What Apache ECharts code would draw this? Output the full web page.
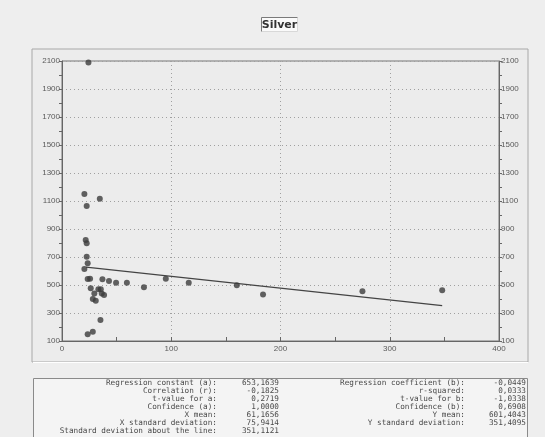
<!DOCTYPE html>
<html>
<head>
<meta charset="utf-8">
<script src="https://cdn.jsdelivr.net/npm/echarts@6/dist/echarts.min.js"></script>
<style>
html,body{margin:0;padding:0;background:#eeeeee;}
#c{width:545px;height:437px;}
</style>
</head>
<body>
<div id="c"></div>
<script>
var titleText = "Silver";
var xVals = [20.5, 22.6, 34.6, 21.7, 22.6, 22.6, 23.5, 20.5, 23.5, 25.7, 26.3, 37, 43, 49.5, 59.4, 75, 95, 116, 29.6, 33.3, 35.5, 36.4, 38.5, 28.2, 30.9, 35.2, 28.2, 23.5, 24.2, 160, 184, 275, 348];
var yVals = [1150, 1064, 1116, 821, 798, 702, 655, 614, 543, 545, 476, 541, 528, 516, 516, 484, 545, 516, 440, 469, 469, 440, 429, 400, 388, 250, 166, 148, 2090, 498, 433, 455, 462];
var lineX = [22, 348];
var lineY = [628, 353];
var xTicks = [0, 100, 200, 300, 400];
var yTicks = [100, 300, 500, 700, 900, 1100, 1300, 1500, 1700, 1900, 2100];
var statLabelsLeft = ["Regression constant (a):", "Correlation (r):", "t-value for a:", "Confidence (a):", "X mean:", "X standard deviation:", "Standard deviation about the line:"];
var statValuesLeft = ["653,1639", "-0,1825", "0,2719", "1,0000", "61,1656", "75,9414", "351,1121"];
var statLabelsRight = ["Regression coefficient (b):", "r-squared:", "t-value for b:", "Confidence (b):", "Y mean:", "Y standard deviation:"];
var statValuesRight = ["-0,0449", "0,0333", "-1,0338", "0,6908", "601,4043", "351,4095"];

var pts = xVals.map(function(x, i){ return [x, yVals[i]]; });
var linePts = lineX.map(function(x, i){ return [x, lineY[i]]; });

var graphics = [];
// outer panel
graphics.push({type:'rect', z:-10, shape:{x:32, y:49, width:496, height:313}, style:{fill:'#ececec', stroke:'#a8a8a8', lineWidth:1}});
graphics.push({type:'line', z:-9, shape:{x1:33, y1:362.5, x2:528, y2:362.5}, style:{stroke:'#ffffff', lineWidth:1}});
// title box
graphics.push({type:'rect', shape:{x:261.5, y:17.5, width:36, height:14}, style:{fill:'#fafafa', stroke:null}});
graphics.push({type:'polyline', shape:{points:[[261.5,31.5],[261.5,17.5],[297.5,17.5]]}, style:{stroke:'#7a7a7a', lineWidth:1, fill:null}});
graphics.push({type:'polyline', shape:{points:[[262,31.5],[297.5,31.5],[297.5,18]]}, style:{stroke:'#d8d8d8', lineWidth:1, fill:null}});
graphics.push({type:'text', style:{x:279.5, y:25, text:titleText, align:'center', verticalAlign:'middle', font:'bold 11px "DejaVu Sans", sans-serif', fill:'#333333'}});
// stats box
graphics.push({type:'rect', shape:{x:33.5, y:378.5, width:494, height:70}, style:{fill:'#f4f4f4', stroke:'#8a8a8a', lineWidth:1}});
var statFont = '7.7px "DejaVu Sans Mono", monospace';
statLabelsLeft.forEach(function(t, i){
  var y = 383.5 + i * 8;
  graphics.push({type:'text', style:{x:217, y:y, text:t, align:'right', verticalAlign:'middle', font:statFont, fill:'#4a4a4a'}});
  graphics.push({type:'text', style:{x:279, y:y, text:statValuesLeft[i], align:'right', verticalAlign:'middle', font:statFont, fill:'#4a4a4a'}});
});
statLabelsRight.forEach(function(t, i){
  var y = 383.5 + i * 8;
  graphics.push({type:'text', style:{x:465, y:y, text:t, align:'right', verticalAlign:'middle', font:statFont, fill:'#4a4a4a'}});
  graphics.push({type:'text', style:{x:526, y:y, text:statValuesRight[i], align:'right', verticalAlign:'middle', font:statFont, fill:'#4a4a4a'}});
});

var plain = function(v){ return String(v); };
var labelStyle = {fontSize:8, color:'#5a5a5a', fontFamily:'"Liberation Sans", Arial, sans-serif', formatter:plain};
var chart = echarts.init(document.getElementById('c'), null, {renderer:'canvas'});
chart.setOption({
  animation:false,
  backgroundColor:'#eeeeee',
  graphic: graphics,
  grid:{left:62, top:61, right:46, bottom:96, show:true, borderColor:'#777777', borderWidth:1, backgroundColor:'transparent'},
  xAxis:[{
    type:'value', min:xTicks[0], max:xTicks[xTicks.length-1], interval:100,
    axisLine:{show:true, lineStyle:{color:'#666666', width:1}},
    axisTick:{show:true, inside:true, length:4, lineStyle:{color:'#666666'}},
    minorTick:{show:true, splitNumber:2, length:4, lineStyle:{color:'#666666'}},
    axisLabel:Object.assign({margin:4}, labelStyle),
    splitLine:{show:true, lineStyle:{color:'#a0a0a0', type:[1,3], width:1}}
  }],
  yAxis:[{
    type:'value', min:yTicks[0], max:yTicks[yTicks.length-1], interval:200,
    axisLine:{show:true, lineStyle:{color:'#666666', width:1}},
    axisTick:{show:true, length:3, lineStyle:{color:'#666666'}},
    minorTick:{show:true, splitNumber:2, length:3, lineStyle:{color:'#666666'}},
    axisLabel:Object.assign({margin:2}, labelStyle),
    splitLine:{show:true, lineStyle:{color:'#a0a0a0', type:[1,3], width:1}}
  },{
    type:'value', position:'right', min:yTicks[0], max:yTicks[yTicks.length-1], interval:200,
    axisLine:{show:true, lineStyle:{color:'#666666', width:1}},
    axisTick:{show:true, length:3, lineStyle:{color:'#666666'}},
    minorTick:{show:true, splitNumber:2, length:3, lineStyle:{color:'#666666'}},
    axisLabel:Object.assign({margin:2}, labelStyle),
    splitLine:{show:false}
  }],
  series:[{
    type:'scatter', data:pts, symbol:'circle', symbolSize:6,
    itemStyle:{color:'#3c3c3c'}, z:5
  },{
    type:'line', data:linePts, showSymbol:false, symbol:'none',
    lineStyle:{color:'#444444', width:1.2}, z:4
  }]
});
</script>
</body>
</html>
